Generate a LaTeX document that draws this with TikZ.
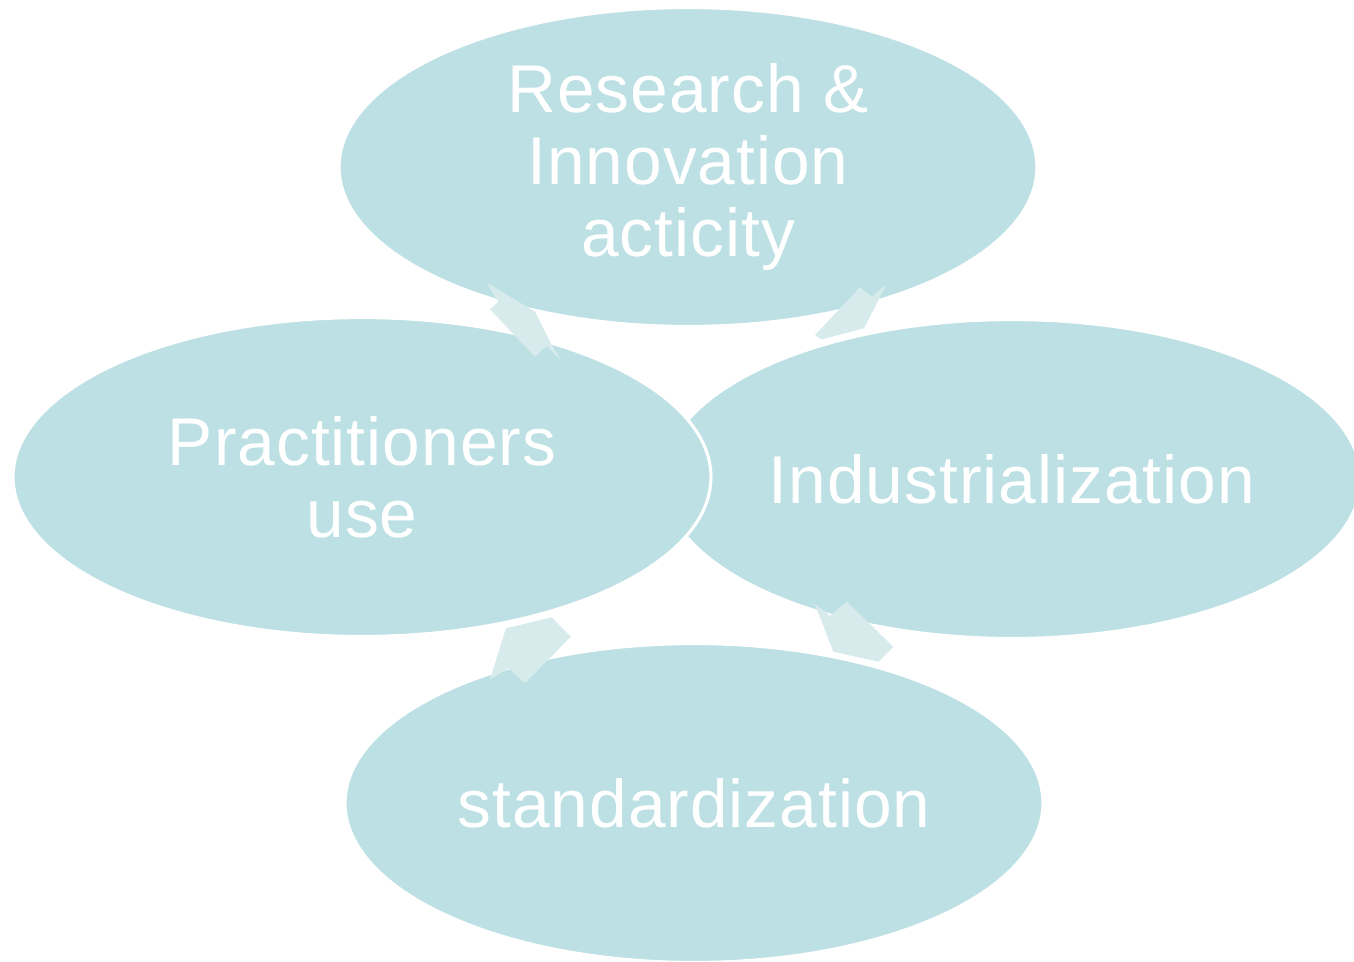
\documentclass[tikz,border=0pt]{standalone}
\usepackage{fontspec}
\setmainfont{Liberation Sans}[LetterSpace=1.5]
\usepackage{tikz}
\usetikzlibrary{shapes.geometric}
\definecolor{cyclefill}{HTML}{BCE0E3}
\definecolor{arrowfill}{HTML}{D7EBED}
\tikzset{
  phase/.style={ellipse, fill=cyclefill, draw=white, line width=1.8pt, inner sep=0pt,
    minimum width=13.96cm, minimum height=6.38cm, text=white, align=center,
    font=\fontsize{38.5}{41}\selectfont},
  cyclearrow/.style={fill=arrowfill}
}
\begin{document}
\begin{tikzpicture}[x=0.02cm,y=-0.02cm]
  \useasboundingbox (0,0) rectangle (1354,961);
  % the four phases, drawn clockwise from the top
  \node[phase] (research) at (688,167) {Research \&\\Innovation\\acticity};
  \node[phase] (indus) at (1012,479) {Industrialization};
  \node[phase] (standard) at (694,803) {standardization};
  \node[phase] (practice) at (362,477) {Practitioners\\use};

  % arrows between the phases
  \fill[cyclearrow] (486.7,282.7) -- (535,311.7) -- (551.7,345) -- (561.7,360.7)
    -- (546.7,346) -- (535,356.7) -- (490,309.3) -- (498.3,301.7) -- cycle;
  \fill[cyclearrow] (815,335) -- (860,287.3) -- (871.7,296.7) -- (886.7,284)
    -- (864,328.3) -- (821.7,339.3) -- cycle;
  \fill[cyclearrow] (815,604) -- (830,616) -- (846.7,601.7) -- (893.3,646.7)
    -- (878.3,661.7) -- (833.3,651.7) -- cycle;
  \fill[cyclearrow] (506,628.3) -- (551.7,617.3) -- (570.7,636.7) -- (525,683.3)
    -- (508.3,668.3) -- (490,679.3) -- cycle;
\end{tikzpicture}
\end{document}
